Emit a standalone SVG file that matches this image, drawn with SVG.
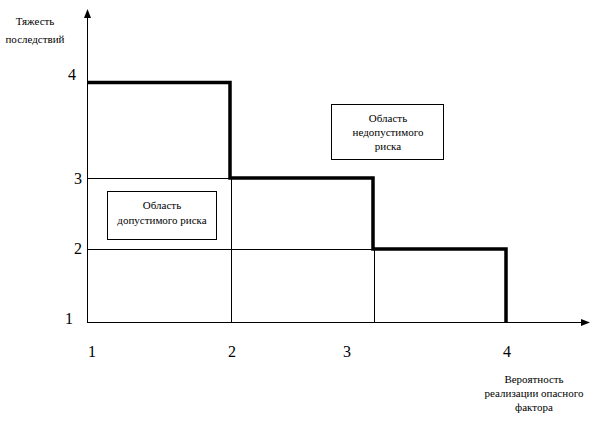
<svg xmlns="http://www.w3.org/2000/svg" width="596" height="422" viewBox="0 0 596 422">
<style>
.t{font-family:"Liberation Serif","Times New Roman",serif;font-size:11px;fill:#000;text-anchor:middle}
.n{font-family:"Liberation Serif","Times New Roman",serif;font-size:16px;fill:#000;text-anchor:middle}
.thin{stroke:#000;stroke-width:1;fill:none}
.thick{stroke:#000;stroke-width:3.5;fill:none}
.box{stroke:#000;stroke-width:1;fill:#fff}
</style>
<rect width="596" height="422" fill="#fff"/>
<g id="connectors">
<line class="thin" x1="87.5" y1="16" x2="87.5" y2="322.5"/>
<polygon points="87.5,9 84,18 91,18" fill="#000"/>
<line class="thin" x1="87" y1="322.5" x2="582" y2="322.5"/>
<polygon points="590,322.5 581,319 581,326" fill="#000"/>
<line class="thin" x1="87" y1="178.5" x2="231" y2="178.5"/>
<line class="thin" x1="87" y1="249.5" x2="374" y2="249.5"/>
<line class="thin" x1="231.5" y1="178" x2="231.5" y2="322"/>
<line class="thin" x1="374.5" y1="249" x2="374.5" y2="322"/>
<polyline class="thick" points="87,82.5 230,82.5 230,178 373,178 373,249 506,249 506,322"/>
</g>
<g id="axis-y-label">
<text class="t" x="35" y="25">Тяжесть</text>
<text class="t" x="35" y="43">последствий</text>
</g>
<g id="y-ticks">
<text class="n" x="72" y="80">4</text>
<text class="n" x="78" y="184">3</text>
<text class="n" x="78" y="254">2</text>
<text class="n" x="69" y="324">1</text>
</g>
<g id="x-ticks">
<text class="n" x="92" y="357">1</text>
<text class="n" x="232" y="357">2</text>
<text class="n" x="347" y="357">3</text>
<text class="n" x="507" y="357">4</text>
</g>
<g id="axis-x-label">
<text class="t" x="534" y="383">Вероятность</text>
<text class="t" x="534" y="397">реализации опасного</text>
<text class="t" x="534" y="411">фактора</text>
</g>
<g id="box-acceptable">
<rect class="box" x="107.5" y="191.5" width="109" height="48"/>
<text class="t" x="162" y="209">Область</text>
<text class="t" x="162" y="224">допустимого риска</text>
</g>
<g id="box-unacceptable">
<rect class="box" x="331.5" y="104.5" width="112" height="55"/>
<text class="t" x="388" y="122">Область</text>
<text class="t" x="388" y="136">недопустимого</text>
<text class="t" x="388" y="150">риска</text>
</g>
</svg>
